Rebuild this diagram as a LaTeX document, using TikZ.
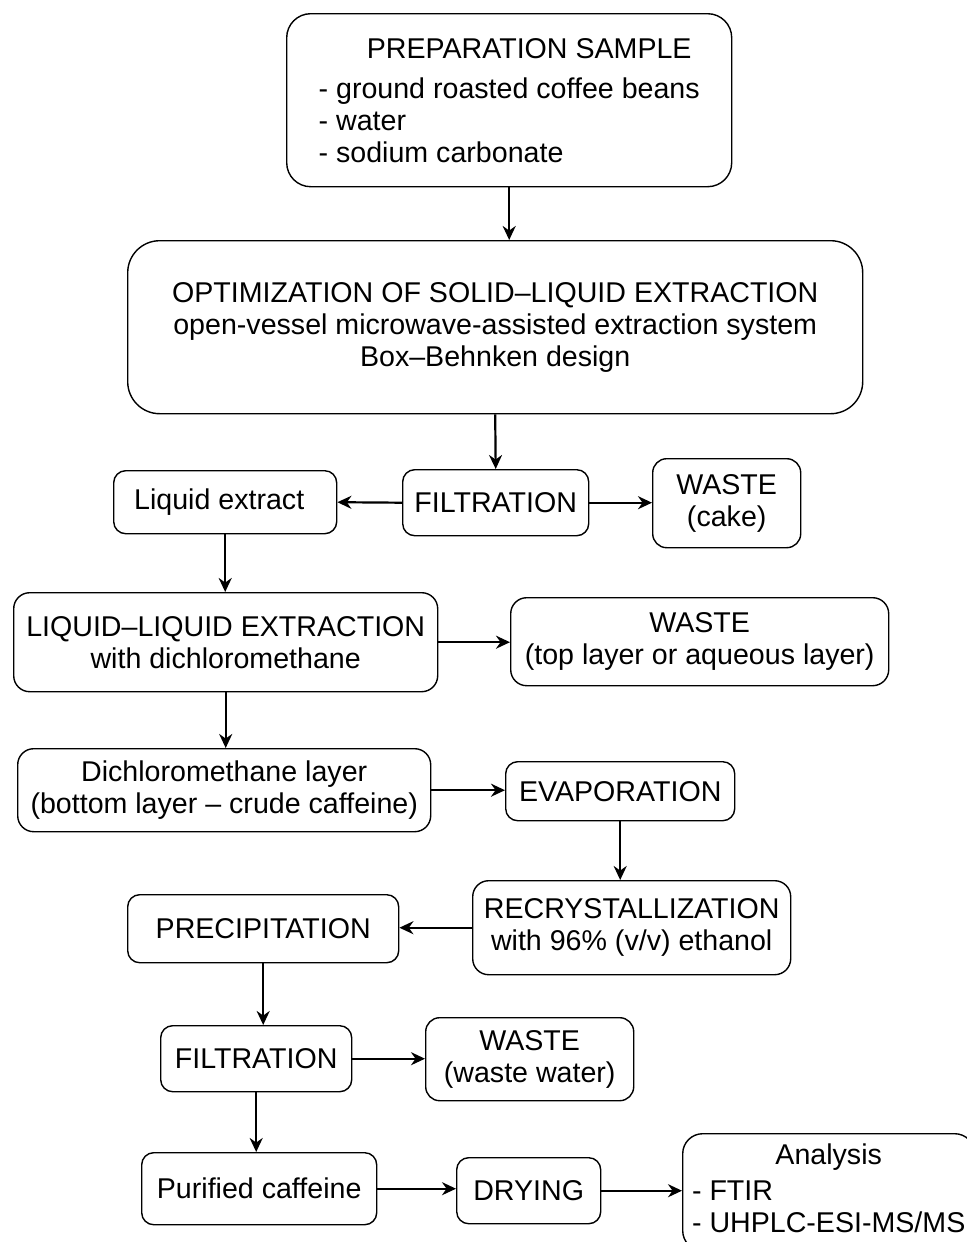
\documentclass[tikz,border=0pt]{standalone}
\usepackage{fontspec}
\setmainfont{Liberation Sans}
\usetikzlibrary{arrows.meta}
\tikzset{
  box/.style={draw=black, line width=0.7pt, rounded corners=6pt, inner sep=0pt, align=center, font=\fontsize{14.3}{16}\selectfont, fill=white},
  bigbox/.style={box, rounded corners=12pt},
  arr/.style={line width=1.1pt, -{Stealth[length=7pt,width=6.5pt]}},
}
\newcommand{\boxnode}[7][]{\node[box,#1,minimum width={(#4-#2)*0.5pt},minimum height={(#5-#3)*0.5pt},anchor=north west] (#6) at (#2,#3) {#7};}
\begin{document}
\begin{tikzpicture}[x=0.5pt,y=-0.5pt]
\fill[white] (0,0) rectangle (967,1242);
\useasboundingbox (0,0) rectangle (967,1242);
\boxnode[bigbox]{286}{13}{731}{186}{prep}{\rule{0pt}{15pt}\hspace*{20pt}PREPARATION SAMPLE\\[8pt]\begin{tabular}{@{}l@{}}- ground roasted coffee beans\\- water\\- sodium carbonate\end{tabular}}
\boxnode[bigbox,rounded corners=16pt]{127}{240}{862}{413}{opt}{OPTIMIZATION OF SOLID--LIQUID EXTRACTION\\open-vessel microwave-assisted extraction system\\Box--Behnken design}
\boxnode{402}{469}{588}{535}{filt1}{FILTRATION}
\boxnode{113}{470}{336}{533}{liq}{Liquid extract\hspace*{6pt}}
\boxnode[rounded corners=7pt]{652}{458}{800}{547}{wcake}{WASTE\\(cake)}
\boxnode[rounded corners=8pt]{13}{592}{437}{691}{lle}{LIQUID--LIQUID EXTRACTION\\with dichloromethane}
\boxnode[rounded corners=8pt]{510}{597}{888}{685}{wtop}{WASTE\\(top layer or aqueous layer)}
\boxnode[rounded corners=8pt]{17}{748}{430}{831}{dcm}{Dichloromethane layer\\(bottom layer -- crude caffeine)}
\boxnode{505}{761}{734}{820}{evap}{EVAPORATION}
\boxnode[rounded corners=8pt]{472}{880}{790}{974}{recr}{RECRYSTALLIZATION\\with 96\% (v/v) ethanol}
\boxnode{127}{894}{398}{962}{prec}{PRECIPITATION}
\boxnode{160}{1025}{351}{1091}{filt2}{FILTRATION}
\boxnode[rounded corners=7pt]{425}{1017}{633}{1100}{wwater}{WASTE\\(waste water)}
\boxnode{141}{1152}{376}{1224}{pur}{Purified caffeine}
\boxnode{456}{1157}{600}{1223}{dry}{DRYING}
\boxnode[rounded corners=10pt]{682}{1133}{974}{1250}{ana}{\begin{tabular}{@{}l@{}}\multicolumn{1}{@{}c@{}}{Analysis}\\[2pt]- FTIR\\- UHPLC-ESI-MS/MS\end{tabular}}
\draw[arr] (prep.south) -- (prep.south |- opt.north);
\draw[arr] (opt.south) -- (filt1.north);
\draw[arr] (filt1.west) -- (liq.east);
\draw[arr] (filt1.east) -- (filt1.east -| wcake.west);
\draw[arr] (liq.south) -- (liq.south |- lle.north);
\draw[arr] (lle.east) -- (lle.east -| wtop.west);
\draw[arr] (lle.south) -- (lle.south |- dcm.north);
\draw[arr] (dcm.east) -- (dcm.east -| evap.west);
\draw[arr] (evap.south) -- (evap.south |- recr.north);
\draw[arr] (recr.west) -- (recr.west -| prec.east);
\draw[arr] (prec.south) -- (prec.south |- filt2.north);
\draw[arr] (filt2.east) -- (filt2.east -| wwater.west);
\draw[arr] (filt2.south) -- (filt2.south |- pur.north);
\draw[arr] (pur.east) -- (pur.east -| dry.west);
\draw[arr] (dry.east) -- (dry.east -| ana.west);
\end{tikzpicture}
\end{document}
